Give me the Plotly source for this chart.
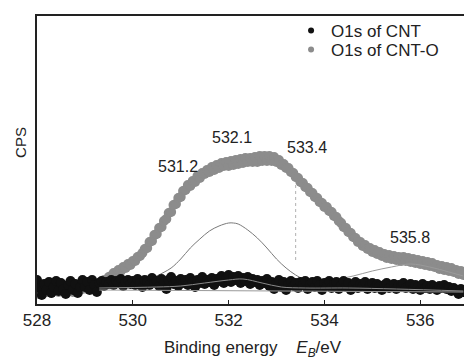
import numpy as np
import plotly.graph_objects as go

# Binding energy grid (eV), 0.05 eV step
energy = np.round(np.arange(528.0, 536.901, 0.05), 2)

# O1s of CNT-O (gray points)
cnto_cps = [
    13, 9, 12, 15, 11, 14, 10, 13, 15, 11,
    14, 12, 16, 12, 14, 11, 15, 13, 16, 14,
    17, 14, 17, 15, 19, 17, 20, 21, 23, 22,
    26, 27, 30, 29, 33, 32, 36, 35, 39, 38,
    42, 42, 46, 47, 50, 54, 55, 61, 62, 68,
    69, 75, 76, 82, 84, 90, 91, 98, 99, 105,
    106, 112, 113, 118, 117, 122, 121, 127, 125, 130,
    129, 133, 131, 136, 133, 138, 135, 140, 137, 141,
    137, 142, 138, 143, 139, 144, 140, 145, 141, 145,
    141, 146, 141, 147, 142, 147, 142, 147, 142, 146,
    141, 143, 138, 139, 135, 135, 131, 130, 126, 125,
    121, 120, 116, 115, 111, 110, 106, 105, 101, 100,
    96, 96, 92, 91, 87, 86, 82, 80, 76, 75,
    71, 70, 66, 65, 61, 61, 57, 58, 54, 55,
    51, 53, 49, 51, 47, 49, 45, 48, 44, 47,
    43, 46, 42, 46, 42, 45, 41, 44, 40, 43,
    39, 42, 38, 41, 37, 40, 36, 38, 34, 37,
    33, 36, 32, 35, 31, 33, 29, 32, 28,
]

# O1s of CNT (black points)
cnt_cps = [
    23, 15, 8, 19, 13, 21, 10, 16, 22, 12,
    20, 14, 9, 18, 22, 13, 19, 10, 16, 23,
    16, 21, 13, 23, 18, 11, 20, 22, 17, 21,
    19, 23, 18, 22, 20, 24, 17, 21, 23, 19,
    22, 18, 24, 20, 16, 23, 21, 18, 25, 20,
    22, 17, 24, 21, 14, 23, 26, 19, 22, 17,
    24, 20, 23, 18, 25, 21, 16, 23, 20, 26,
    19, 23, 21, 25, 18, 24, 22, 27, 20, 25,
    28, 21, 26, 23, 27, 20, 25, 22, 26, 19,
    24, 21, 23, 18, 22, 20, 24, 17, 21, 14,
    20, 23, 16, 21, 13, 19, 22, 17, 20, 15,
    21, 18, 22, 14, 19, 21, 16, 22, 18, 13,
    20, 17, 22, 15, 19, 21, 14, 18, 22, 16,
    20, 13, 18, 21, 15, 19, 17, 21, 14, 18,
    20, 15, 19, 17, 13, 18, 20, 15, 17, 19,
    14, 18, 16, 20, 15, 17, 19, 14, 18, 16,
    13, 19, 15, 17, 14, 18, 16, 13, 17, 15,
    18, 14, 16, 12, 15, 13, 9, 14, 11,
]

# Fitted component 532.1 eV (thin line)
fit1_e = [530.3, 530.5, 530.8, 531.0, 531.2, 531.4, 531.6, 531.8, 532.0, 532.1,
          532.2, 532.4, 532.6, 532.8, 533.0, 533.2, 533.4, 533.6, 533.8, 534.0]
fit1_cps = [22, 27, 35, 44, 55, 64, 72, 77, 80, 80,
            79, 73, 65, 55, 44, 35, 28, 23, 20, 18]

# Fitted component 535.8 eV
fit2_e = [533.8, 534.2, 534.6, 535.0, 535.4, 535.8, 536.2, 536.6, 536.9]
fit2_cps = [19, 23, 27, 32, 36, 39, 36, 31, 27]

# Fit of CNT spectrum
fit3_e = [529.3, 530.5, 531.0, 531.5, 532.0, 532.3, 532.7, 533.1, 533.6, 534.5, 535.5, 536.9]
fit3_cps = [15, 16, 17, 20, 23, 24, 20, 16, 15, 15, 14, 12]

# Background line
bg_e = [529.3, 536.9]
bg_cps = [13, 11]

# Marker line at 533.4
vline_e = [533.4, 533.4]
vline_cps = [43, 120]

peak_labels = ["531.2", "532.1", "533.4", "535.8"]
peak_label_e = [530.94, 532.07, 533.64, 535.79]
peak_label_cps = [137, 166, 156, 66]

x_ticks = [528, 530, 532, 534, 536]

FONT = "Liberation Sans, Arial, sans-serif"

fig = go.Figure()
fig.add_trace(go.Scatter(x=energy, y=cnto_cps, mode="markers", showlegend=False,
                         marker=dict(color="#8c8c8c", size=10, line=dict(width=0))))
fig.add_trace(go.Scatter(x=fit1_e, y=fit1_cps, mode="lines", showlegend=False,
                         line=dict(color="#7a7a7a", width=1, shape="spline")))
fig.add_trace(go.Scatter(x=fit2_e, y=fit2_cps, mode="lines", showlegend=False,
                         line=dict(color="#9a9a9a", width=1, shape="spline")))
fig.add_trace(go.Scatter(x=energy, y=cnt_cps, mode="markers", showlegend=False,
                         marker=dict(color="#111111", size=10, line=dict(width=0))))
fig.add_trace(go.Scatter(x=fit3_e, y=fit3_cps, mode="lines", showlegend=False,
                         line=dict(color="#888888", width=1, shape="spline")))
fig.add_trace(go.Scatter(x=bg_e, y=bg_cps, mode="lines", showlegend=False,
                         line=dict(color="#999999", width=1)))
fig.add_trace(go.Scatter(x=vline_e, y=vline_cps, mode="lines", showlegend=False,
                         line=dict(color="#b0b0b0", width=1, dash="dot")))

# legend entries (small markers as in the original)
fig.add_trace(go.Scatter(x=[None], y=[None], mode="markers", name="O1s of CNT",
                         legend="legend",
                         marker=dict(color="#111111", size=6)))
fig.add_trace(go.Scatter(x=[None], y=[None], mode="markers", name="O1s of CNT-O",
                         legend="legend2",
                         marker=dict(color="#8c8c8c", size=6)))

for t, e, c in zip(peak_labels, peak_label_e, peak_label_cps):
    fig.add_annotation(x=e, y=c, text=t, showarrow=False,
                       font=dict(family=FONT, size=16, color="#222"))

fig.add_annotation(xref="paper", yref="paper", x=0.505, y=-0.2, xanchor="center",
                   text="Binding energy\u00a0\u00a0\u00a0\u00a0<i>E</i><sub><i>B</i></sub>/eV",
                   showarrow=False, font=dict(family=FONT, size=17, color="#222"))
fig.add_annotation(xref="paper", yref="paper", x=-0.04, y=0.5625, text="CPS",
                   textangle=-90, showarrow=False, xanchor="center", yanchor="middle",
                   font=dict(family=FONT, size=15, color="#222"))

leg_common = dict(xanchor="left", yanchor="middle", bgcolor="rgba(0,0,0,0)",
                  font=dict(family=FONT, size=17, color="#222"),
                  itemsizing="trace")

fig.update_layout(
    width=464, height=361,
    margin=dict(l=37, r=0, t=16, b=57),
    paper_bgcolor="white", plot_bgcolor="white",
    font=dict(family=FONT, size=16, color="#222"),
    legend=dict(x=0.595, y=0.948, **leg_common),
    legend2=dict(x=0.595, y=0.882, **leg_common),
    xaxis=dict(range=[528, 536.914], tickvals=x_ticks, ticks="inside", ticklen=4,
               tickcolor="#222", showline=True, linecolor="#222", linewidth=2,
               mirror=True, showgrid=False, zeroline=False,
               tickfont=dict(family=FONT, size=17, color="#222")),
    yaxis=dict(range=[-1, 287], showticklabels=False, ticks="", showline=True,
               linecolor="#222", linewidth=2, showgrid=False, zeroline=False),
)

fig.write_html("out.html")
